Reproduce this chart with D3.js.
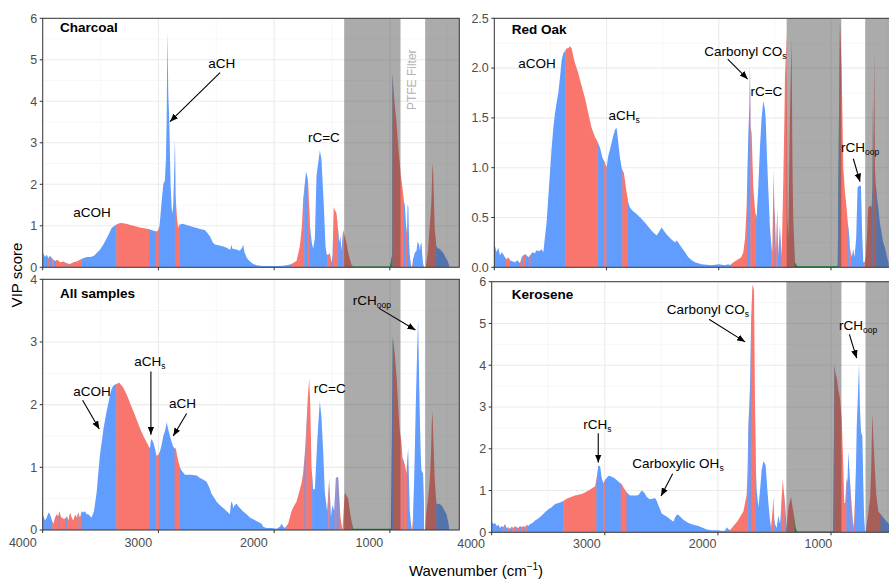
<!DOCTYPE html>
<html>
<head>
<meta charset="utf-8">
<script src="https://cdn.jsdelivr.net/npm/d3@7"></script>
<style>
  body { margin: 0; background: #fff; }
  svg { display: block; font-family: "Liberation Sans", Arial, Helvetica, sans-serif; }
</style>
</head>
<body>
<svg id="chart" width="889" height="581"></svg>
<script>
// ---- data: [wavenumber, VIP score] ----
const charcoalPts = [
  [4000,0.36],[3980,0.25],[3965,0.3],[3951,0.22],[3937,0.28],[3914,0.2],[3893,0.15],[3873,0.18],[3850,0.12],
  [3822,0.14],[3793,0.1],[3764,0.08],[3735,0.12],[3706,0.14],[3678,0.18],[3649,0.22],[3620,0.25],[3591,0.25],
  [3560,0.27],[3548,0.3],[3505,0.42],[3476,0.55],[3447,0.7],[3420,0.85],[3404,0.95],[3380,1.0],[3361,1.03],
  [3340,1.06],[3318,1.07],[3280,1.05],[3217,1.0],[3160,0.96],[3102,0.93],[3060,0.9],[3030,0.87],[3010,0.87],
  [3001,0.9],[2990,1.0],[2975,1.5],[2958,2.0],[2944,2.1],[2935,2.6],[2929,3.5],[2922,5.7],[2915,4.2],[2906,3.5],
  [2895,2.0],[2885,1.4],[2880,1.3],[2872,1.5],[2862,2.5],[2857,3.1],[2852,1.75],[2840,1.2],[2830,0.95],[2822,1.0],
  [2814,1.03],[2790,1.05],[2756,1.02],[2700,0.97],[2660,0.94],[2641,0.92],[2600,0.9],[2584,0.85],[2555,0.75],
  [2530,0.6],[2512,0.55],[2480,0.53],[2440,0.5],[2411,0.47],[2380,0.42],[2368,0.55],[2362,0.45],[2353,0.45],
  [2320,0.42],[2296,0.4],[2275,0.48],[2267,0.55],[2258,0.38],[2240,0.25],[2224,0.18],[2200,0.12],[2181,0.08],
  [2150,0.05],[2123,0.04],[2066,0.03],[2000,0.03],[1960,0.03],[1922,0.04],[1893,0.05],[1870,0.06],[1850,0.08],
  [1807,0.15],[1778,0.5],[1760,1.0],[1749,1.65],[1735,2.0],[1725,2.3],[1715,2.2],[1706,2.05],[1698,1.5],
  [1691,1.0],[1675,0.6],[1663,0.45],[1648,0.7],[1634,2.2],[1620,2.5],[1605,2.82],[1591,2.6],[1580,2.0],
  [1571,1.5],[1556,0.5],[1545,0.3],[1533,0.3],[1519,0.35],[1504,0.1],[1495,0.3],[1485,1.45],[1470,1.35],
  [1461,1.3],[1447,0.9],[1438,0.6],[1427,0.75],[1418,0.4],[1404,0.9],[1390,0.75],[1375,0.6],[1360,0.35],
  [1346,0.2],[1330,0.05],[1317,0.02],[1000,0.02],[980,0.3],[978,4.65],[960,4.0],[943,3.5],[925,2.8],[914,2.5],
  [905,2.2],[890,1.9],[880,1.6],[871,1.5],[860,1.0],[851,0.8],[846,1.5],[840,1.45],[834,0.6],[828,0.3],
  [818,0.05],[808,0.0],[800,0.2],[793,0.25],[785,0.35],[770,0.4],[760,0.62],[748,0.55],[741,0.4],[735,0.55],
  [727,0.6],[720,0.3],[713,0.1],[705,0.0],[690,0.0],[680,0.2],[670,0.4],[660,0.85],[650,1.2],[641,1.6],
  [632,2.5],[626,2.3],[618,1.5],[612,0.9],[598,0.5],[580,0.45],[569,0.45],[555,0.4],[540,0.35],[520,0.25],
  [500,0.15],[488,0.05]
];
const charcoalBands = [
  [4000,3955,'b'],[3955,3945,'r'],[3945,3915,'b'],[3915,3900,'r'],[3900,3885,'b'],[3885,3800,'r'],[3800,3790,'b'],
  [3790,3720,'r'],[3720,3710,'b'],[3710,3665,'r'],[3665,3362,'b'],[3362,3075,'r'],[3075,3020,'b'],[3020,2995,'r'],
  [2995,2855,'b'],[2855,2814,'r'],[2814,1852,'b'],[1852,1738,'r'],[1738,1710,'b'],[1710,1696,'r'],[1696,1540,'b'],
  [1540,1508,'r'],[1508,1492,'b'],[1492,1445,'r'],[1445,1405,'b'],[1405,1320,'r'],[1320,982,'g'],[982,975,'b'],
  [975,880,'r'],[880,860,'b'],[860,850,'r'],[850,815,'b'],[815,800,'r'],[800,695,'b'],[695,605,'r'],[605,400,'b']
];

const redOakPts = [
  [4000,0.24],[3979,0.15],[3965,0.2],[3950,0.12],[3935,0.15],[3920,0.13],[3905,0.1],[3890,0.08],[3875,0.1],
  [3860,0.07],[3840,0.06],[3816,0.05],[3795,0.07],[3771,0.04],[3755,0.1],[3742,0.12],[3720,0.13],[3697,0.1],
  [3680,0.12],[3661,0.15],[3640,0.14],[3623,0.17],[3600,0.16],[3578,0.18],[3563,0.15],[3549,0.3],[3534,0.45],
  [3519,0.7],[3504,0.95],[3489,1.2],[3474,1.4],[3459,1.55],[3445,1.65],[3430,1.75],[3415,1.9],[3400,2.08],
  [3385,2.15],[3370,2.17],[3355,2.2],[3341,2.2],[3326,2.22],[3311,2.2],[3296,2.12],[3281,2.05],[3252,1.95],
  [3222,1.82],[3192,1.7],[3163,1.55],[3133,1.4],[3100,1.3],[3088,1.28],[3073,1.24],[3058,1.2],[3036,1.1],
  [3014,1.05],[3005,1.02],[2999,1.0],[2990,1.08],[2984,1.12],[2970,1.18],[2955,1.25],[2940,1.32],[2925,1.38],
  [2910,1.4],[2895,1.25],[2880,1.1],[2865,1.0],[2857,0.97],[2845,0.95],[2833,0.85],[2821,0.75],[2806,0.65],
  [2791,0.6],[2770,0.57],[2747,0.55],[2700,0.5],[2658,0.45],[2600,0.37],[2554,0.32],[2530,0.36],[2509,0.4],
  [2490,0.37],[2464,0.33],[2430,0.29],[2390,0.25],[2375,0.27],[2361,0.25],[2331,0.2],[2300,0.15],[2271,0.1],
  [2240,0.07],[2212,0.05],[2153,0.03],[2064,0.02],[2000,0.03],[1945,0.02],[1915,0.03],[1900,0.02],[1870,0.05],
  [1826,0.08],[1800,0.1],[1781,0.15],[1765,0.3],[1752,0.6],[1737,1.3],[1728,1.6],[1722,2.04],[1716,1.4],
  [1707,1.35],[1692,0.8],[1675,0.55],[1663,0.5],[1648,0.8],[1633,1.2],[1618,1.5],[1603,1.67],[1590,1.6],
  [1582,1.5],[1570,1.1],[1559,0.8],[1544,0.4],[1530,0.2],[1523,0.15],[1511,0.98],[1505,0.6],[1499,0.5],
  [1490,0.15],[1478,0.6],[1470,0.1],[1455,0.42],[1440,0.1],[1425,0.85],[1415,1.5],[1410,1.9],[1395,2.35],
  [1388,0.5],[1380,0.3],[1366,1.5],[1351,2.3],[1343,1.0],[1336,0.5],[1321,0.05],[1300,0.01],[940,0.01],
  [925,2.0],[920,2.48],[905,2.0],[890,1.0],[875,0.75],[861,0.6],[850,0.45],[840,0.35],[831,0.2],[816,0.1],
  [801,0.18],[790,0.1],[775,0.3],[763,0.8],[748,0.82],[733,0.82],[721,0.3],[712,0.05],[700,0.05],[691,0.1],
  [680,0.3],[668,0.6],[650,0.62],[638,0.6],[630,0.8],[626,1.72],[620,0.9],[614,2.22],[608,1.0],[602,0.85],
  [590,0.7],[578,0.6],[565,0.45],[549,0.35],[535,0.25],[519,0.2],[500,0.1],[486,0.04]
];
const redOakBands = [
  [4000,3895,'b'],[3895,3865,'r'],[3865,3770,'b'],[3770,3755,'r'],[3755,3745,'b'],[3745,3720,'r'],[3720,3690,'b'],
  [3690,3675,'r'],[3675,3365,'b'],[3365,3073,'r'],[3073,3018,'b'],[3018,2999,'r'],[2999,2857,'b'],[2857,2812,'r'],
  [2812,1885,'b'],[1885,1740,'r'],[1740,1716,'b'],[1716,1665,'r'],[1665,1530,'b'],[1530,1500,'r'],[1500,1485,'b'],
  [1485,1470,'r'],[1470,1445,'b'],[1445,1320,'r'],[1320,935,'g'],[935,927,'b'],[927,845,'r'],[845,835,'b'],
  [835,815,'r'],[815,700,'b'],[700,630,'r'],[630,622,'b'],[622,595,'r'],[595,400,'b']
];

const allPts = [
  [4000,0.25],[3980,0.15],[3965,0.2],[3950,0.28],[3937,0.25],[3920,0.15],[3908,0.1],[3893,0.2],[3879,0.25],
  [3865,0.22],[3856,0.3],[3845,0.22],[3836,0.2],[3820,0.18],[3807,0.18],[3790,0.22],[3778,0.15],[3764,0.28],
  [3750,0.2],[3735,0.15],[3720,0.25],[3706,0.2],[3692,0.28],[3678,0.2],[3663,0.3],[3650,0.28],[3634,0.3],
  [3620,0.25],[3606,0.25],[3590,0.22],[3577,0.2],[3557,0.3],[3534,0.6],[3520,0.9],[3505,1.2],[3490,1.4],
  [3476,1.6],[3462,1.75],[3447,1.9],[3433,2.02],[3419,2.15],[3405,2.25],[3390,2.3],[3375,2.32],[3361,2.33],
  [3350,2.34],[3338,2.35],[3320,2.31],[3303,2.27],[3280,2.18],[3260,2.1],[3240,2.0],[3217,1.9],[3190,1.77],
  [3159,1.62],[3130,1.5],[3102,1.4],[3085,1.34],[3073,1.3],[3066,1.42],[3059,1.45],[3050,1.42],[3044,1.4],
  [3030,1.3],[3016,1.18],[3000,1.2],[2987,1.25],[2970,1.38],[2958,1.5],[2940,1.6],[2929,1.72],[2915,1.6],
  [2900,1.5],[2885,1.4],[2872,1.33],[2858,1.3],[2849,1.3],[2840,1.2],[2828,1.1],[2815,1.0],[2800,0.95],
  [2771,0.88],[2720,0.88],[2670,0.87],[2641,0.83],[2610,0.8],[2584,0.77],[2560,0.68],[2541,0.58],[2520,0.52],
  [2497,0.45],[2470,0.4],[2440,0.35],[2410,0.3],[2382,0.25],[2375,0.4],[2368,0.46],[2360,0.42],[2353,0.35],
  [2340,0.4],[2325,0.42],[2310,0.38],[2296,0.35],[2270,0.3],[2238,0.25],[2210,0.2],[2181,0.17],[2140,0.13],
  [2109,0.1],[2094,0.05],[2066,0.03],[2020,0.03],[1979,0.02],[1950,0.05],[1936,0.1],[1920,0.05],[1907,0.03],
  [1879,0.1],[1850,0.3],[1830,0.38],[1807,0.45],[1785,0.6],[1763,0.75],[1750,0.9],[1735,1.2],[1720,1.7],
  [1710,2.1],[1697,2.42],[1688,2.0],[1677,1.0],[1663,0.65],[1648,0.65],[1628,1.4],[1615,1.8],[1605,2.05],
  [1591,1.8],[1575,1.2],[1562,0.6],[1542,0.3],[1524,0.82],[1510,0.2],[1496,0.4],[1481,0.3],[1467,0.83],
  [1455,0.84],[1447,0.85],[1427,0.2],[1409,0.0],[1400,0.3],[1389,0.6],[1375,0.55],[1360,0.5],[1345,0.3],
  [1332,0.15],[1317,0.02],[990,0.02],[975,3.08],[957,2.8],[940,2.4],[929,2.0],[915,1.6],[900,1.4],[891,1.15],
  [871,1.05],[857,0.9],[850,1.1],[842,1.3],[835,0.8],[828,0.3],[815,0.05],[808,0.0],[800,0.2],[793,0.6],
  [785,1.2],[776,2.0],[765,2.8],[756,3.37],[748,2.5],[741,1.8],[733,1.2],[727,0.95],[713,0.9],[706,0.5],
  [704,0.0],[695,0.0],[684,0.3],[670,0.5],[655,0.8],[645,1.2],[638,1.7],[632,1.9],[625,1.5],[612,0.8],
  [598,0.42],[580,0.42],[555,0.4],[530,0.32],[511,0.25],[495,0.12],[488,0.04]
];
const allBands = [
  [4000,3915,'b'],[3915,3860,'r'],[3860,3850,'b'],[3850,3800,'r'],[3800,3790,'b'],[3790,3700,'r'],[3700,3690,'b'],
  [3690,3662,'r'],[3662,3362,'b'],[3362,3078,'r'],[3078,3016,'b'],[3016,2993,'r'],[2993,2858,'b'],[2858,2814,'r'],
  [2814,1893,'b'],[1893,1735,'r'],[1735,1720,'b'],[1720,1670,'r'],[1670,1530,'b'],[1530,1515,'r'],[1515,1475,'b'],
  [1475,1460,'r'],[1460,1440,'b'],[1440,1320,'r'],[1320,980,'g'],[980,972,'b'],[972,886,'r'],[886,880,'b'],
  [880,851,'r'],[851,814,'b'],[814,794,'r'],[794,700,'b'],[700,597,'r'],[597,400,'b']
];

const keroPts = [
  [4000,0.25],[3985,0.2],[3971,0.22],[3955,0.15],[3941,0.18],[3925,0.1],[3912,0.15],[3897,0.12],[3882,0.2],
  [3868,0.1],[3853,0.12],[3838,0.08],[3823,0.14],[3808,0.1],[3794,0.15],[3780,0.12],[3764,0.1],[3750,0.15],
  [3735,0.12],[3720,0.15],[3705,0.12],[3691,0.18],[3676,0.15],[3661,0.2],[3640,0.22],[3617,0.28],[3588,0.33],
  [3558,0.4],[3529,0.48],[3499,0.55],[3470,0.6],[3440,0.68],[3410,0.7],[3381,0.73],[3366,0.75],[3352,0.78],
  [3323,0.82],[3293,0.85],[3264,0.88],[3234,0.9],[3205,0.92],[3175,0.95],[3145,1.0],[3116,1.05],[3086,1.1],
  [3072,1.3],[3057,1.6],[3042,1.58],[3027,1.3],[3013,1.17],[2998,1.25],[2984,1.3],[2969,1.35],[2954,1.35],
  [2939,1.33],[2917,1.3],[2895,1.25],[2873,1.2],[2851,1.15],[2829,1.05],[2806,0.95],[2777,0.88],[2748,0.88],
  [2718,0.88],[2700,0.9],[2674,1.0],[2652,0.95],[2630,0.85],[2607,0.8],[2585,0.8],[2556,0.82],[2540,0.75],
  [2527,0.65],[2512,0.55],[2497,0.45],[2468,0.4],[2438,0.35],[2416,0.3],[2394,0.25],[2380,0.35],[2364,0.42],
  [2350,0.42],[2335,0.38],[2305,0.3],[2261,0.22],[2217,0.18],[2173,0.15],[2130,0.1],[2099,0.07],[2055,0.05],
  [2000,0.05],[1952,0.03],[1935,0.05],[1922,0.12],[1908,0.08],[1893,0.05],[1878,0.1],[1863,0.15],[1840,0.22],
  [1819,0.3],[1797,0.4],[1775,0.5],[1760,0.7],[1746,0.9],[1738,1.5],[1731,2.5],[1716,3.5],[1707,5.0],[1695,5.93],
  [1681,5.8],[1672,3.0],[1664,1.5],[1657,1.0],[1642,0.6],[1628,1.0],[1613,1.5],[1598,1.7],[1585,1.65],
  [1578,1.6],[1565,1.1],[1554,0.7],[1540,0.3],[1530,0.1],[1515,0.6],[1510,0.85],[1502,0.3],[1495,0.2],
  [1480,0.1],[1466,0.4],[1451,0.2],[1440,0.6],[1427,1.27],[1418,1.0],[1407,0.7],[1392,0.1],[1377,0.6],
  [1354,0.85],[1340,0.6],[1333,0.5],[1312,0.1],[1300,0.02],[980,0.02],[970,4.0],[960,3.8],[949,3.7],[935,3.4],
  [920,3.2],[905,2.7],[891,1.5],[883,0.7],[876,0.7],[861,1.3],[855,1.2],[847,1.93],[840,1.6],[832,1.2],
  [817,0.6],[802,0.1],[795,0.3],[788,0.8],[780,1.5],[773,2.5],[762,3.3],[752,4.05],[745,3.0],[735,2.4],
  [723,2.3],[715,1.2],[708,0.4],[700,0.05],[693,0.0],[685,0.2],[676,0.35],[665,0.6],[655,0.8],[645,1.5],
  [635,2.85],[625,2.2],[612,1.5],[600,0.9],[582,0.5],[567,0.45],[552,0.4],[537,0.35],[522,0.3],[505,0.25],
  [487,0.2]
];
const keroBands = [
  [4000,3900,'b'],[3900,3885,'r'],[3885,3860,'b'],[3860,3840,'r'],[3840,3815,'b'],[3815,3790,'r'],[3790,3775,'b'],
  [3775,3750,'r'],[3750,3740,'b'],[3740,3720,'r'],[3720,3700,'b'],[3700,3685,'r'],[3685,3366,'b'],[3366,3072,'r'],
  [3072,3013,'b'],[3013,2998,'r'],[2998,2857,'b'],[2857,2806,'r'],[2806,1893,'b'],[1893,1731,'r'],[1731,1707,'b'],
  [1707,1666,'r'],[1666,1530,'b'],[1530,1500,'r'],[1500,1440,'b'],[1440,1407,'r'],[1407,1385,'b'],[1385,1320,'r'],
  [1320,975,'g'],[975,968,'b'],[968,862,'r'],[862,825,'b'],[825,815,'r'],[815,803,'b'],[803,788,'r'],
  [788,695,'b'],[695,560,'r'],[560,400,'b']
];

// PTFE filter regions (shaded)
const ptfeRegions = [[1395, 908], [695, 400]];
const xMajorTicks = [4000, 3000, 2000, 1000];
const xMinorTicks = [3500, 2500, 1500, 500];
const groupColor = { r: '#F8766D', g: '#00BA38', b: '#619CFF' };

// annotations in data units: text, subscript, [x, y], optional arrow [x1, y1, x2, y2]
const charcoalNotes = [
  { t: 'aCOH', at: [3574, 1.32] },
  { t: 'aCH', at: [2452, 4.92], arrow: [2467, 4.69, 2900, 3.51] },
  { t: 'rC=C', at: [1570, 3.13] }
];
const redOakNotes = [
  { t: 'aCOH', at: [3620, 2.05] },
  { t: 'aCH', s: 's', at: [2844, 1.53] },
  { t: 'Carbonyl CO', s: 's', at: [1762, 2.17], arrow: [1920, 2.09, 1742, 1.89] },
  { t: 'rC=C', at: [1575, 1.77] },
  { t: 'rCH', s: 'oop', at: [741, 1.21], arrow: [801, 1.09, 741, 0.86] }
];
const allNotes = [
  { t: 'aCOH', at: [3574, 2.22], arrow: [3655, 2.07, 3511, 1.61] },
  { t: 'aCH', s: 's', at: [3073, 2.70], arrow: [3065, 2.53, 3065, 1.52] },
  { t: 'aCH', at: [2791, 2.02], arrow: [2756, 1.86, 2872, 1.5] },
  { t: 'rC=C', at: [1519, 2.26] },
  { t: 'rCH', s: 'oop', at: [1156, 3.67], arrow: [1096, 3.54, 779, 3.19] }
];
const keroNotes = [
  { t: 'Carbonyl CO', s: 's', at: [2088, 5.34], arrow: [2079, 5.10, 1760, 4.56] },
  { t: 'rCH', s: 'oop', at: [760, 4.96], arrow: [838, 4.74, 773, 4.17] },
  { t: 'rCH', s: 's', at: [3066, 2.59], arrow: [3058, 2.37, 3058, 1.67] },
  { t: 'Carboxylic OH', s: 's', at: [2353, 1.65], arrow: [2400, 1.40, 2503, 0.87] }
];

// panel layout
const panels = [
  { title: 'Charcoal', titleAt: [3851, 5.78], pts: charcoalPts, bands: charcoalBands, notes: charcoalNotes,
    yMax: 6, yStep: 1, fmt: d3.format('d'), left: 42.7, right: 459.3, top: 18.3, bottom: 267.3, ptfeLabel: [811, 4.52] },
  { title: 'Red Oak', titleAt: [3845, 2.39], pts: redOakPts, bands: redOakBands, notes: redOakNotes,
    yMax: 2.5, yStep: 0.5, fmt: d3.format('.1f'), left: 494.3, right: 898.3, top: 18.3, bottom: 267.3 },
  { title: 'All samples', titleAt: [3851, 3.78], pts: allPts, bands: allBands, notes: allNotes,
    yMax: 4, yStep: 1, fmt: d3.format('d'), left: 42.7, right: 459.3, top: 279.3, bottom: 530,
    xLabels: { range: [36.7, 383.3], y: 546.5 } },
  { title: 'Kerosene', titleAt: [3823, 5.70], pts: keroPts, bands: keroBands, notes: keroNotes,
    yMax: 6, yStep: 1, fmt: d3.format('d'), left: 491.7, right: 898.9, top: 281.7, bottom: 532.3,
    xLabels: { range: [485, 832.3], y: 548 } }
];

const svg = d3.select('#chart');
const defs = svg.append('defs');

defs.append('marker')
    .attr('id', 'arrowhead')
    .attr('viewBox', '0 0 10 10')
    .attr('refX', 10).attr('refY', 5)
    .attr('markerWidth', 8).attr('markerHeight', 6.5)
    .attr('markerUnits', 'userSpaceOnUse')
    .attr('preserveAspectRatio', 'none')
    .attr('orient', 'auto')
  .append('path')
    .attr('d', 'M0,0L10,5L0,10z')
    .attr('fill', '#000');

panels.forEach((p, i) => {
  const x = d3.scaleLinear().domain([4000, 400]).range([p.left, p.right]);
  const y = d3.scaleLinear().domain([0, p.yMax]).range([p.bottom, p.top]);
  const w = p.right - p.left, h = p.bottom - p.top;

  defs.append('clipPath').attr('id', `panel-${i}`)
    .append('rect').attr('x', p.left).attr('y', p.top).attr('width', w).attr('height', h);

  const g = svg.append('g');
  const inner = g.append('g').attr('clip-path', `url(#panel-${i})`);

  inner.append('rect')
      .attr('x', p.left).attr('y', p.top).attr('width', w).attr('height', h)
      .attr('fill', '#fff');

  // grid
  const yMajor = d3.range(0, p.yMax + 1e-9, p.yStep);
  const yMinor = d3.range(p.yStep / 2, p.yMax, p.yStep);
  inner.selectAll('.gxm').data(xMinorTicks).join('line')
      .attr('x1', d => x(d)).attr('x2', d => x(d)).attr('y1', p.top).attr('y2', p.bottom)
      .attr('stroke', '#F2F2F2').attr('stroke-width', 0.6);
  inner.selectAll('.gym').data(yMinor).join('line')
      .attr('x1', p.left).attr('x2', p.right).attr('y1', d => y(d)).attr('y2', d => y(d))
      .attr('stroke', '#F2F2F2').attr('stroke-width', 0.6);
  inner.selectAll('.gxM').data(xMajorTicks).join('line')
      .attr('x1', d => x(d)).attr('x2', d => x(d)).attr('y1', p.top).attr('y2', p.bottom)
      .attr('stroke', '#EBEBEB').attr('stroke-width', 1.1);
  inner.selectAll('.gyM').data(yMajor).join('line')
      .attr('x1', p.left).attr('x2', p.right).attr('y1', d => y(d)).attr('y2', d => y(d))
      .attr('stroke', '#EBEBEB').attr('stroke-width', 1.1);

  // spectrum, coloured band by band
  const area = d3.area()
      .x(d => x(d[0]))
      .y0(y(0))
      .y1(d => y(d[1]));

  p.bands.forEach((b, j) => {
    const id = `band-${i}-${j}`;
    defs.append('clipPath').attr('id', id)
      .append('rect')
        .attr('x', x(b[0]) - 0.25)
        .attr('width', x(b[1]) - x(b[0]) + 0.5)
        .attr('y', p.top - 2)
        .attr('height', h + 4);
    inner.append('path')
        .datum(p.pts)
        .attr('d', area)
        .attr('fill', groupColor[b[2]])
        .attr('clip-path', `url(#${id})`);
  });

  // PTFE shaded regions
  inner.selectAll('.ptfe').data(ptfeRegions).join('rect')
      .attr('x', d => x(d[0]))
      .attr('width', d => x(d[1]) - x(d[0]))
      .attr('y', p.top).attr('height', h)
      .attr('fill', '#404040').attr('fill-opacity', 0.44);

  if (p.ptfeLabel) {
    inner.append('text')
        .attr('transform', `translate(${x(p.ptfeLabel[0])},${y(p.ptfeLabel[1])}) rotate(-90)`)
        .attr('text-anchor', 'middle')
        .attr('dy', '0.35em')
        .attr('font-size', 12)
        .attr('fill', '#B3B3B3')
        .text('PTFE Filter');
  }

  // border
  g.append('rect')
      .attr('x', p.left).attr('y', p.top).attr('width', w).attr('height', h)
      .attr('fill', 'none').attr('stroke', '#333').attr('stroke-width', 1);

  // ticks
  g.selectAll('.xt').data(xMajorTicks).join('line')
      .attr('x1', d => x(d)).attr('x2', d => x(d))
      .attr('y1', p.bottom).attr('y2', p.bottom + 3)
      .attr('stroke', '#333');
  g.selectAll('.yt').data(yMajor).join('line')
      .attr('x1', p.left - 3).attr('x2', p.left)
      .attr('y1', d => y(d)).attr('y2', d => y(d))
      .attr('stroke', '#333');
  g.selectAll('.yl').data(yMajor).join('text')
      .attr('x', p.left - 5.5)
      .attr('y', d => y(d))
      .attr('dy', '0.35em')
      .attr('text-anchor', 'end')
      .attr('font-size', 12.5)
      .attr('fill', '#4D4D4D')
      .text(d => p.fmt(d));

  if (p.xLabels) {
    const xl = d3.scaleLinear().domain([4000, 1000]).range(p.xLabels.range);
    g.selectAll('.xl').data(xMajorTicks).join('text')
        .attr('x', d => xl(d))
        .attr('y', p.xLabels.y)
        .attr('text-anchor', 'end')
        .attr('font-size', 12.5)
        .attr('fill', '#4D4D4D')
        .text(d => d);
  }

  // title
  g.append('text')
      .attr('x', x(p.titleAt[0]))
      .attr('y', y(p.titleAt[1]))
      .attr('dy', '0.35em')
      .attr('font-size', 13.5)
      .attr('font-weight', 'bold')
      .text(p.title);

  // annotations
  p.notes.forEach(n => {
    if (n.arrow) {
      g.append('line')
          .attr('x1', x(n.arrow[0])).attr('y1', y(n.arrow[1]))
          .attr('x2', x(n.arrow[2])).attr('y2', y(n.arrow[3]))
          .attr('stroke', '#000').attr('stroke-width', 1.1)
          .attr('marker-end', 'url(#arrowhead)');
    }
    const t = g.append('text')
        .attr('x', x(n.at[0]))
        .attr('y', y(n.at[1]))
        .attr('dy', '0.35em')
        .attr('text-anchor', 'middle')
        .attr('font-size', 13.5)
        .attr('fill', '#000');
    t.append('tspan').text(n.t);
    if (n.s) {
      t.append('tspan').attr('font-size', 8.5).attr('dy', 3).text(n.s);
    }
  });
});

// axis titles
svg.append('text')
    .attr('transform', 'translate(22,275) rotate(-90)')
    .attr('text-anchor', 'middle')
    .attr('font-size', 15)
    .text('VIP score');

const xt = svg.append('text')
    .attr('x', 476).attr('y', 576)
    .attr('text-anchor', 'middle')
    .attr('font-size', 15);
xt.append('tspan').text('Wavenumber (cm');
xt.append('tspan').attr('font-size', 10).attr('dy', -6).text('\u22121');
xt.append('tspan').attr('dy', 6).text(')');
</script>
</body>
</html>
